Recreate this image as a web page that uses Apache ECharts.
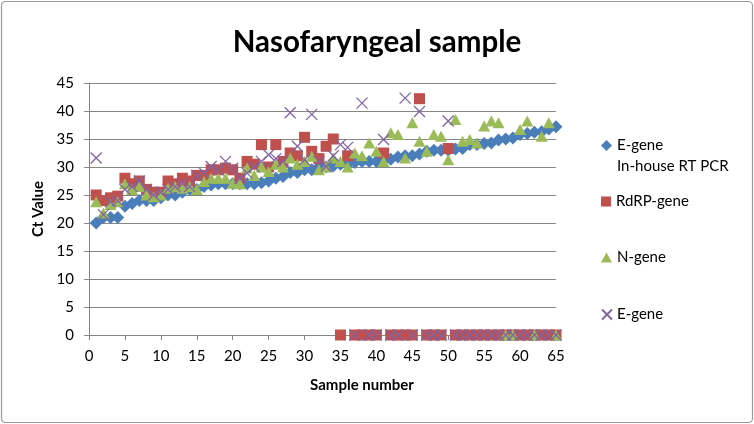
<!DOCTYPE html>
<html>
<head>
<meta charset="utf-8">
<script src="https://cdn.jsdelivr.net/npm/echarts@6/dist/echarts.min.js"></script>
<style>
html,body{margin:0;padding:0;background:#fff;}
#chart{width:754px;height:424px;}
</style>
</head>
<body>
<div id="chart"></div>
<script>
var samples = [1,2,3,4,5,6,7,8,9,10,11,12,13,14,15,16,17,18,19,20,21,22,23,24,25,26,27,28,29,30,31,32,33,34,35,36,37,38,39,40,41,42,43,44,45,46,47,48,49,50,51,52,53,54,55,56,57,58,59,60,61,62,63,64,65];

var eGeneInHouse = [20,21,21,21,23,23.5,24,24,24,24.5,25,25,25.5,26,26,26.5,26.8,27,27,27,27,27,27,27.2,27.5,28,28.3,29,29,29.5,29.5,30,30,30.2,30.5,30.5,30.8,31,31,31,31.2,31.4,31.8,32,32,32.3,32.8,33,33,33,33.2,33.3,34,34,34.2,34.3,34.8,35,35.2,35.8,36,36.2,36.3,36.8,37.2];

var rdrpGene = [25,24,24.5,24.8,28,27,27.5,26,25.5,25.5,27.5,27,28,27.5,28.5,28.5,29.5,29.5,29.8,29.5,28,31,30.5,34,30,34,31,32.5,32,35.3,32.8,31.5,33.7,35,0,32,0,0,0,0,32.5,0,0,0,0,42.2,0,0,0,33.3,0,0,0,0,0,0,0,0,0,0,0,0,0,0,0];

var nGene = [23.8,21.8,23.3,23.8,27,26,26.5,25,24.7,25,26.2,26.5,26.2,26.5,26,27.4,28,28,28,27.1,27,29.8,28.5,30,29.2,30.5,30,31.6,30.5,31,31.9,29.5,30,31.6,31,30,32.5,32,34.3,32.8,31,36.1,35.8,31.6,37.9,34.6,32.8,35.8,35.5,31.3,38.5,34.6,34.9,34.3,37.3,38.2,37.9,0,0,36.7,38.2,0,35.5,37.9,0];

var eGene = [31.6,21.5,23.8,24,26,26.5,27.5,26,25,25.5,26,26.5,27,26.5,28.5,29,30.1,29.5,31,29.8,28,28.9,30,31,32.2,31.5,31,39.7,33.7,31.3,39.4,31,30.1,32,34,33.5,0,41.4,0,0,34.9,0,0,42.3,0,39.9,0,0,0,38.2,0,0,0,0,0,0,0,0,0,0,0,0,0,0,0];

var seriesNames = ['E-gene\nIn-house RT PCR', 'RdRP-gene', 'N-gene', 'E-gene'];
var yTicks = [0,5,10,15,20,25,30,35,40,45];
var xTicks = [0,5,10,15,20,25,30,35,40,45,50,55,60,65];

function pairs(vals){ return samples.map(function(s,i){ return [s, vals[i]]; }); }

var FONT = 'Lato';
var xPath = 'path://M0,0L10,10M10,0L0,10';
var gray = '#868686';

var chart = echarts.init(document.getElementById('chart'), null, {renderer:'canvas'});

function legendAt(name, icon, top, w, h, extra){
  var lg = {
    data: [{name: name, icon: icon}],
    orient: 'vertical',
    left: 596,
    top: top,
    itemWidth: w,
    itemHeight: h,
    selectedMode: false,
    textStyle: {fontFamily: FONT, fontSize: 15, color: '#000', lineHeight: 21}
  };
  if (extra) { for (var k in extra) lg[k] = extra[k]; }
  return lg;
}

var option = {
  animation: false,
  backgroundColor: '#fff',
  title: {
    text: 'Nasofaryngeal sample',
    left: 'center',
    top: 22,
    textStyle: {fontFamily: FONT, fontSize: 29.5, fontWeight: 'bold', color: '#000'}
  },
  graphic: [{
    type: 'rect',
    shape: {x: 1.5, y: 1.5, width: 751, height: 421, r: 4},
    style: {fill: 'none', stroke: '#9a9a9a', lineWidth: 1.2},
    silent: true,
    z: -1
  }],
  legend: [
    legendAt(seriesNames[0], 'diamond', 109, 11, 11, {formatter: function(n){ return '\n' + n; }}),
    legendAt(seriesNames[1], 'rect', 186, 10, 10),
    legendAt(seriesNames[2], 'triangle', 242, 11, 10),
    legendAt(seriesNames[3], xPath, 299, 10, 10)
  ],
  grid: {left: 89, right: 198, top: 83, bottom: 89, containLabel: false},
  xAxis: {
    type: 'value',
    min: xTicks[0],
    max: xTicks[xTicks.length-1],
    interval: 5,
    name: 'Sample number',
    nameLocation: 'middle',
    nameGap: 43,
    nameTextStyle: {fontFamily: FONT, fontSize: 15, fontWeight: 'bold', color: '#000', padding: [0,0,0,79]},
    axisLine: {show: true, lineStyle: {color: gray, width: 1}},
    axisTick: {show: true, inside: false, length: 5, lineStyle: {color: gray}},
    axisLabel: {fontFamily: FONT, fontSize: 15, color: '#000', margin: 14},
    splitLine: {show: false}
  },
  yAxis: {
    type: 'value',
    min: yTicks[0],
    max: yTicks[yTicks.length-1],
    interval: 5,
    name: 'Ct Value',
    nameLocation: 'middle',
    nameGap: 39,
    nameTextStyle: {fontFamily: FONT, fontSize: 15, fontWeight: 'bold', color: '#000'},
    axisLine: {show: true, lineStyle: {color: gray, width: 1}},
    axisTick: {show: true, inside: false, length: 5, lineStyle: {color: gray}},
    axisLabel: {fontFamily: FONT, fontSize: 15, color: '#000', margin: 15},
    splitLine: {show: true, lineStyle: {color: gray, width: 1}}
  },
  series: [
    {
      name: seriesNames[0], type: 'scatter', symbol: 'diamond', symbolSize: 13,
      itemStyle: {color: '#4A7EBB', opacity: 1},
      data: pairs(eGeneInHouse)
    },
    {
      name: seriesNames[1], type: 'scatter', symbol: 'rect', symbolSize: 11,
      itemStyle: {color: '#C0504D', opacity: 1},
      data: pairs(rdrpGene)
    },
    {
      name: seriesNames[2], type: 'scatter', symbol: 'triangle', symbolSize: [12, 11],
      itemStyle: {color: '#9BBB59', opacity: 1},
      data: pairs(nGene)
    },
    {
      name: seriesNames[3], type: 'scatter', symbol: xPath, symbolSize: 11,
      itemStyle: {color: 'rgba(0,0,0,0)', borderColor: '#8064A2', borderWidth: 1.3, opacity: 1},
      data: pairs(eGene)
    }
  ]
};
chart.setOption(option);
</script>
</body>
</html>
